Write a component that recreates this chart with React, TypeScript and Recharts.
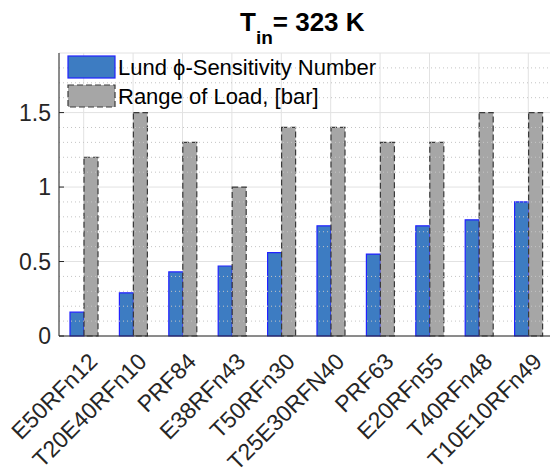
import { BarChart, Bar, XAxis, YAxis, CartesianGrid, ReferenceLine } from 'recharts';

// tested mixtures at T_in = 323 K
const mixtures = [
    'E50RFn12', 'T20E40RFn10', 'PRF84', 'E38RFn43', 'T50RFn30',
    'T25E30RFN40', 'PRF63', 'E20RFn55', 'T40RFn48', 'T10E10RFn49',
];
const lundNumber = [0.16, 0.29, 0.43, 0.47, 0.56, 0.74, 0.55, 0.74, 0.78, 0.9];
const loadRange = [1.2, 1.5, 1.3, 1.0, 1.4, 1.4, 1.3, 1.3, 1.5, 1.5];
const yTicks = [0, 0.5, 1, 1.5];
const minorTicks = [0.1, 0.2, 0.3, 0.4, 0.6, 0.7, 0.8, 0.9, 1.1, 1.2, 1.3, 1.4, 1.6, 1.7, 1.8];

const series = [
    { key: 'lund', name: 'Lund \u03d5-Sensitivity Number', fill: '#3d7cc2', stroke: '#2222ff', dash: undefined },
    { key: 'load', name: 'Range of Load, [bar]', fill: '#a6a6a6', stroke: '#3a3a3a', dash: '6 3' },
];

const font = '"Liberation Sans", Arial, Helvetica, sans-serif';

const data = mixtures.map((name, i) => ({ name, lund: lundNumber[i], load: loadRange[i] }));

function XTick(props: any) {
    const { x, payload } = props;
    const px = x + 15;
    const py = 363;
    return (
        <text x={px} y={py} textAnchor="end" fontSize={23} fill="#262626"
            fontFamily={font} transform={`rotate(-45, ${px}, ${py})`}>
            {payload.value}
        </text>
    );
}

function LegendBox() {
    return (
        <div style={{ position: 'absolute', left: 67, top: 53, fontFamily: font, fontSize: 22, color: '#000', lineHeight: '24px' }}>
            {series.map((s) => (
                <div key={s.key} style={{ display: 'flex', alignItems: 'center', height: 29 }}>
                    <svg width={49} height={25} style={{ marginRight: 2 }}>
                        <rect x={1} y={1} width={47} height={22} fill={s.fill} stroke={s.stroke}
                            strokeWidth={1.2} strokeDasharray={s.dash} />
                    </svg>
                    <span>{s.name}</span>
                </div>
            ))}
        </div>
    );
}

export default function App() {
    return (
        <div style={{ position: 'absolute', left: 0, top: 0, width: 550, height: 474, overflow: 'hidden', background: '#fff' }}>
            <BarChart
                width={560}
                height={474}
                data={data}
                margin={{ top: 53, right: 7, left: 0, bottom: 0 }}
                barSize={14}
                barGap={0}
            >
                <CartesianGrid xAxisId="bottom" yAxisId="left" stroke="#e2e2e2" strokeWidth={1} />
                {minorTicks.map((v) => (
                    <ReferenceLine key={v} xAxisId="bottom" yAxisId="left" y={v}
                        stroke="#c4c4c4" strokeDasharray="1 3" />
                ))}
                <XAxis xAxisId="bottom" dataKey="name" interval={0} height={138}
                    axisLine={{ stroke: '#262626' }} tickLine={false} tick={<XTick />} />
                <XAxis xAxisId="top" dataKey="name" orientation="top" interval={0} height={0}
                    axisLine={{ stroke: '#262626' }} tickLine={{ stroke: '#262626' }} tickSize={-5} tick={false} />
                <YAxis yAxisId="left" width={59} domain={[0, 1.9]} ticks={yTicks} interval={0}
                    axisLine={{ stroke: '#262626' }} tickLine={{ stroke: '#262626' }} tickSize={-5} tickMargin={13}
                    tick={{ fontSize: 23, fill: '#262626', fontFamily: font }} />
                <YAxis yAxisId="right" orientation="right" width={0} domain={[0, 1.9]} ticks={yTicks} interval={0}
                    axisLine={{ stroke: '#262626' }} tickLine={{ stroke: '#262626' }} tickSize={-5} tick={false} />
                {series.map((s) => (
                    <Bar key={s.key} xAxisId="bottom" yAxisId="left" dataKey={s.key} name={s.name}
                        fill={s.fill} stroke={s.stroke} strokeWidth={1.2} strokeDasharray={s.dash}
                        isAnimationActive={false} />
                ))}
            </BarChart>
            <LegendBox />
            <div style={{ position: 'absolute', left: 240, top: 9, fontFamily: font, fontWeight: 'bold', fontSize: 26, lineHeight: '26px', color: '#000', whiteSpace: 'nowrap' }}>
                T<span style={{ fontSize: 19, position: 'relative', top: 13 }}>in</span>= 323 K
            </div>
        </div>
    );
}
